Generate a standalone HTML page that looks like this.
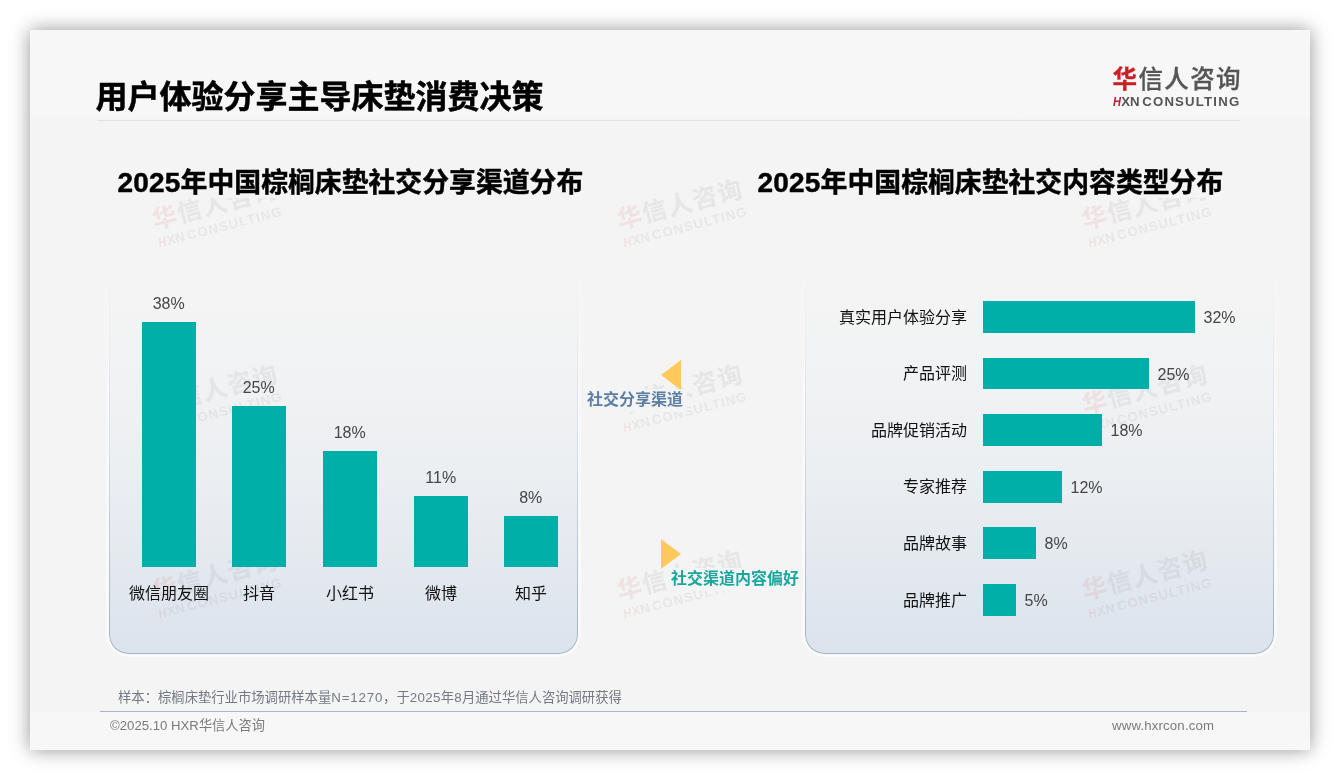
<!DOCTYPE html>
<html lang="zh-CN">
<head>
<meta charset="utf-8">
<title>用户体验分享主导床垫消费决策</title>
<style>
*{margin:0;padding:0;box-sizing:border-box}
html,body{width:1340px;height:780px;background:#fff;overflow:hidden}
body{font-family:"Liberation Sans","Noto Sans CJK SC",sans-serif;position:relative}
.slide{position:absolute;left:30px;top:30px;width:1280px;height:720px;background:#f4f4f4;box-shadow:0 0 18px rgba(0,0,0,.42);overflow:hidden}
.abs{position:absolute;white-space:nowrap}
.hdr{left:0;top:0;width:1280px;height:90px;background:linear-gradient(180deg,#f7f7f7 0,#f7f7f7 86px,#f4f4f4 90px)}
.ftr{left:0;top:682px;width:1280px;height:38px;background:#f7f7f7}
.title{font-size:32px;font-weight:700;color:#000;line-height:48px;-webkit-text-stroke:.5px #000}
.hline{height:1px;background:#e1e1e1}
.tbox{background:#f4f4f4}
.ctitle{font-size:26.85px;font-weight:700;color:#000;line-height:40px;-webkit-text-stroke:.45px #000}
.ctitle b{font-size:28px;font-weight:700;letter-spacing:.2px}
.panel{border-radius:0 0 19.5px 19.5px;background:linear-gradient(180deg,rgba(244,244,244,0) 0%,#f2f3f4 22%,#eceff2 50%,#e4e9ef 75%,#dbe3ed 100%)}
.panel i{position:absolute;left:0;top:0;right:0;bottom:0;border-radius:0 0 19.5px 19.5px;border:1px solid #a3b0c4;border-top:0;-webkit-mask-image:linear-gradient(180deg,rgba(0,0,0,0) 0%,rgba(0,0,0,.25) 45%,#000 100%);mask-image:linear-gradient(180deg,rgba(0,0,0,0) 0%,rgba(0,0,0,.25) 45%,#000 100%)}
.panel u{position:absolute;left:-3px;right:-3px;top:0;bottom:-3px;border:3px solid rgba(255,255,255,.5);border-top:0;border-radius:0 0 22.5px 22.5px;-webkit-mask-image:linear-gradient(180deg,rgba(0,0,0,.15) 0%,rgba(0,0,0,.7) 30%,#000 70%);mask-image:linear-gradient(180deg,rgba(0,0,0,.15) 0%,rgba(0,0,0,.7) 30%,#000 70%)}
.bar{background:#00b0a8}
.val{font-size:16px;color:#454545;line-height:20px;text-align:center}
.cat{font-size:16px;color:#111;line-height:20px}
.mlab{font-size:16px;font-weight:700;line-height:22px;background:#f4f4f4}
.foot{font-size:13.33px;color:#737a84;line-height:18px}
.foot b{font-weight:400;letter-spacing:.8px}
.foot u{text-decoration:none;letter-spacing:.35px}
.foot2{font-size:13.2px;color:#7b7b7b;line-height:18px}
.fline{height:1px;background:#a6b5c9}
.logo{width:130px;height:46px}
.logo .l1{position:absolute;left:0;top:0;font-size:24.5px;font-weight:500;color:#555;line-height:30px;letter-spacing:1.4px;-webkit-text-stroke:.3px #555}
.logo .l1 span{color:#cc1f24;font-weight:700;-webkit-text-stroke:.3px #cc1f24}
.logo .l2{position:absolute;left:0;top:29.5px;font-size:13.2px;font-weight:700;color:#555;line-height:16px}
.logo .l2 span{color:#b81f2c;font-style:italic;display:inline-block;transform:scaleX(.84);transform-origin:0 50%;margin-right:-.8px}
.logo .l2 em{font-style:normal;word-spacing:-1px}
.logo .l2 s{text-decoration:none;letter-spacing:1.2px}
.wm{transform:rotate(-14.5deg);transform-origin:64px 24px;opacity:.078}
.wm .l1{font-weight:700}
</style>
</head>
<body>
<div class="slide">
  <div class="abs hdr"></div>
  <div class="abs ftr"></div>
  <div class="abs panel" style="left:79px;top:242px;width:469px;height:381.5px;"><u></u><i></i></div>
  <div class="abs panel" style="left:775px;top:242px;width:468.5px;height:381.5px;"><u></u><i></i></div>
  <div class="abs logo wm" style="left:123px;top:160.3px;"><div class="l1"><span>华</span>信人咨询</div><div class="l2"><span>H</span><em>XN </em><s>CONSULTING</s></div></div>
  <div class="abs logo wm" style="left:588px;top:160.3px;"><div class="l1"><span>华</span>信人咨询</div><div class="l2"><span>H</span><em>XN </em><s>CONSULTING</s></div></div>
  <div class="abs logo wm" style="left:1053px;top:160.3px;"><div class="l1"><span>华</span>信人咨询</div><div class="l2"><span>H</span><em>XN </em><s>CONSULTING</s></div></div>
  <div class="abs logo wm" style="left:123px;top:345.3px;"><div class="l1"><span>华</span>信人咨询</div><div class="l2"><span>H</span><em>XN </em><s>CONSULTING</s></div></div>
  <div class="abs logo wm" style="left:588px;top:345.3px;"><div class="l1"><span>华</span>信人咨询</div><div class="l2"><span>H</span><em>XN </em><s>CONSULTING</s></div></div>
  <div class="abs logo wm" style="left:1053px;top:345.3px;"><div class="l1"><span>华</span>信人咨询</div><div class="l2"><span>H</span><em>XN </em><s>CONSULTING</s></div></div>
  <div class="abs logo wm" style="left:123px;top:531.3px;"><div class="l1"><span>华</span>信人咨询</div><div class="l2"><span>H</span><em>XN </em><s>CONSULTING</s></div></div>
  <div class="abs logo wm" style="left:588px;top:531.3px;"><div class="l1"><span>华</span>信人咨询</div><div class="l2"><span>H</span><em>XN </em><s>CONSULTING</s></div></div>
  <div class="abs logo wm" style="left:1053px;top:531.3px;"><div class="l1"><span>华</span>信人咨询</div><div class="l2"><span>H</span><em>XN </em><s>CONSULTING</s></div></div>
  <div class="abs title" style="left:65.5px;top:42.5px;">用户体验分享主导床垫消费决策</div>
  <div class="abs hline" style="left:67px;top:90px;width:1143px;"></div>
  <div class="abs tbox" style="left:79px;top:130px;width:482px;height:37.5px;"></div>
  <div class="abs tbox" style="left:719px;top:130px;width:482px;height:37.5px;"></div>
  <div class="abs ctitle" style="left:87.5px;top:132.5px;"><b>2025</b>年中国棕榈床垫社交分享渠道分布</div>
  <div class="abs ctitle" style="left:727.5px;top:132.5px;"><b>2025</b>年中国棕榈床垫社交内容类型分布</div>
  <div class="abs bar" style="left:112px;top:292px;width:54px;height:245px;"></div>
  <div class="abs val" style="left:88.7px;top:264px;width:100px;">38%</div>
  <div class="abs cat" style="left:79px;top:553.5px;width:120px;text-align:center">微信朋友圈</div>
  <div class="abs bar" style="left:202px;top:376px;width:54px;height:161px;"></div>
  <div class="abs val" style="left:178.7px;top:348px;width:100px;">25%</div>
  <div class="abs cat" style="left:169px;top:553.5px;width:120px;text-align:center">抖音</div>
  <div class="abs bar" style="left:293px;top:421px;width:54px;height:116px;"></div>
  <div class="abs val" style="left:269.7px;top:393px;width:100px;">18%</div>
  <div class="abs cat" style="left:260px;top:553.5px;width:120px;text-align:center">小红书</div>
  <div class="abs bar" style="left:384px;top:466px;width:54px;height:71px;"></div>
  <div class="abs val" style="left:360.7px;top:438px;width:100px;">11%</div>
  <div class="abs cat" style="left:351px;top:553.5px;width:120px;text-align:center">微博</div>
  <div class="abs bar" style="left:474px;top:486px;width:54px;height:51px;"></div>
  <div class="abs val" style="left:450.7px;top:458px;width:100px;">8%</div>
  <div class="abs cat" style="left:441px;top:553.5px;width:120px;text-align:center">知乎</div>
  <div class="abs bar" style="left:953px;top:271px;width:212px;height:31.8px;"></div>
  <div class="abs cat" style="left:737px;top:277.5px;width:200px;text-align:right">真实用户体验分享</div>
  <div class="abs val" style="left:1173.5px;top:277.9px;text-align:left">32%</div>
  <div class="abs bar" style="left:953px;top:327.6px;width:166px;height:31.8px;"></div>
  <div class="abs cat" style="left:737px;top:334.1px;width:200px;text-align:right">产品评测</div>
  <div class="abs val" style="left:1127.5px;top:334.5px;text-align:left">25%</div>
  <div class="abs bar" style="left:953px;top:384.2px;width:119px;height:31.8px;"></div>
  <div class="abs cat" style="left:737px;top:390.7px;width:200px;text-align:right">品牌促销活动</div>
  <div class="abs val" style="left:1080.5px;top:391.1px;text-align:left">18%</div>
  <div class="abs bar" style="left:953px;top:440.8px;width:79px;height:31.8px;"></div>
  <div class="abs cat" style="left:737px;top:447.3px;width:200px;text-align:right">专家推荐</div>
  <div class="abs val" style="left:1040.5px;top:447.7px;text-align:left">12%</div>
  <div class="abs bar" style="left:953px;top:497.4px;width:53px;height:31.8px;"></div>
  <div class="abs cat" style="left:737px;top:503.9px;width:200px;text-align:right">品牌故事</div>
  <div class="abs val" style="left:1014.5px;top:504.3px;text-align:left">8%</div>
  <div class="abs bar" style="left:953px;top:554px;width:33px;height:31.8px;"></div>
  <div class="abs cat" style="left:737px;top:560.5px;width:200px;text-align:right">品牌推广</div>
  <div class="abs val" style="left:994.5px;top:560.9px;text-align:left">5%</div>
  <div class="abs mlab" style="left:553px;top:359px;width:104px;height:23px;color:#5c7ea5;padding-left:4px">社交分享渠道</div>
  <svg class="abs" style="left:631px;top:330px" width="20" height="30" viewBox="0 0 20 30"><polygon points="0,15 20,0 20,30" fill="#ffc95c"/></svg>
  <div class="abs mlab" style="left:637px;top:538px;width:136px;height:23px;color:#18a79d;padding-left:4px">社交渠道内容偏好</div>
  <svg class="abs" style="left:631px;top:509px" width="20" height="30" viewBox="0 0 20 30"><polygon points="0,0 20,15 0,30" fill="#ffc95c"/></svg>
  <div class="abs foot" style="left:88px;top:659px;">样本：棕榈床垫行业市场调研样本量<b>N=1270</b>，于<u>2025</u>年<u>8</u>月通过华信人咨询调研获得</div>
  <div class="abs fline" style="left:70px;top:681px;width:1147px;"></div>
  <div class="abs foot2" style="left:80px;top:687px;">©2025.10 HXR华信人咨询</div>
  <div class="abs foot2" style="left:1082px;top:687px;letter-spacing:.18px">www.hxrcon.com</div>
  <div class="abs logo" style="left:1082.5px;top:34.5px;"><div class="l1"><span>华</span>信人咨询</div><div class="l2"><span>H</span><em>XN </em><s>CONSULTING</s></div></div>
</div>
</body>
</html>
